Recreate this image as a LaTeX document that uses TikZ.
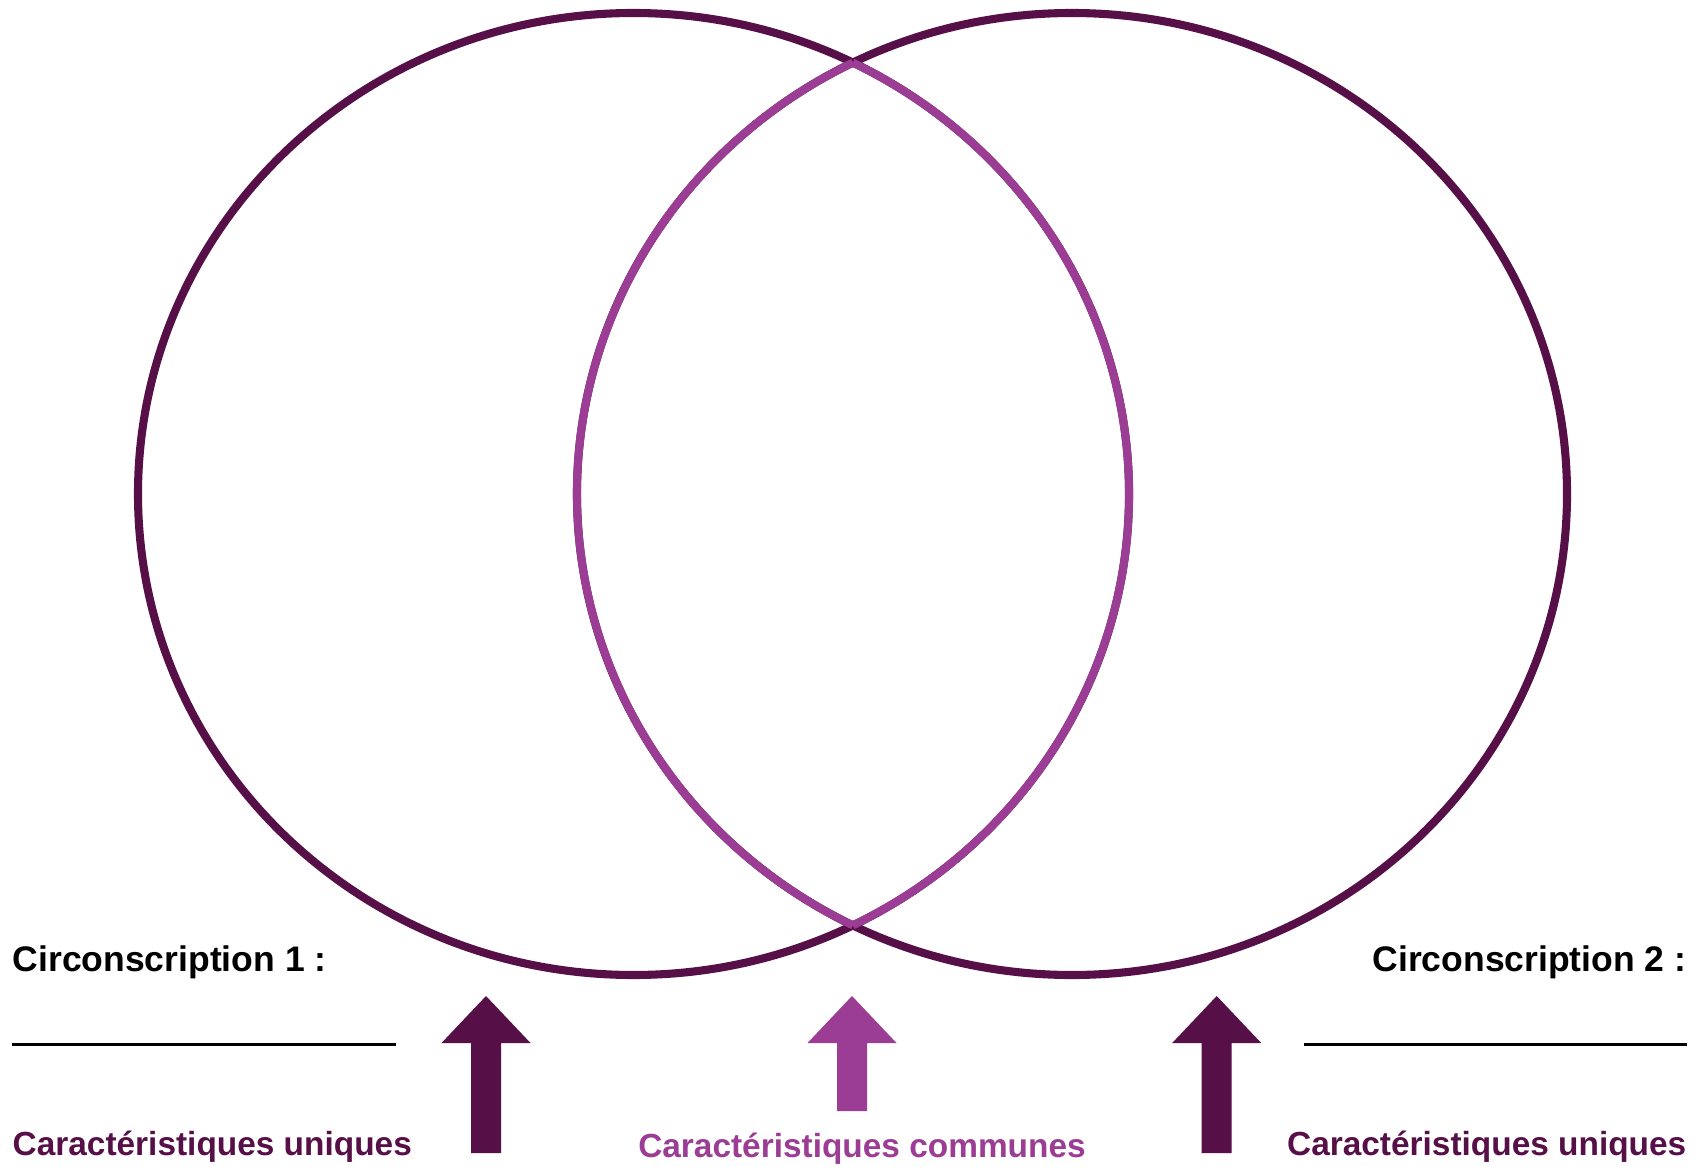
\documentclass[tikz,border=0pt]{standalone}
\usepackage{fontspec}
\setmainfont{Liberation Sans}
\definecolor{plumdark}{RGB}{87,15,72}
\definecolor{plumlight}{RGB}{155,61,148}
\tikzset{
  ring/.style={draw=plumdark, line width=2.3pt},
  lens/.style={draw=plumlight, line width=2.3pt},
  title/.style={inner sep=0pt, font=\fontsize{10.1pt}{12pt}\selectfont\bfseries},
  caption/.style={inner sep=0pt, font=\fontsize{9.5pt}{12pt}\selectfont\bfseries},
}
\begin{document}
\begin{tikzpicture}[x=0.01cm,y=-0.01cm]
            \useasboundingbox (0,0) rectangle (1703,1167);
            % the two districts
            \draw[ring] (633.5,494) ellipse [x radius=495.5, y radius=481];
            \draw[ring] (1072,494) ellipse [x radius=495, y radius=481];
            % shared part
            \draw[lens] (633.5,494) ++(-63.74:495.5 and 481)
              arc [start angle=-63.74, end angle=63.74, x radius=495.5, y radius=481];
            \draw[lens] (1072,494) ++(116.26:495 and 481)
              arc [start angle=116.26, end angle=243.74, x radius=495, y radius=481];

            % pointers
            \foreach \ax/\bot/\col in {486/1153/plumdark, 852/1111/plumlight, 1216.7/1153/plumdark}
            \fill[\col] (\ax,996) -- ({\ax+44.5},1043) -- ({\ax+15},1043) -- ({\ax+15},\bot)
              -- ({\ax-15},\bot) -- ({\ax-15},1043) -- ({\ax-44.5},1043) -- cycle;

            % labels
            \node[title, anchor=base west] (district1) at (12,971) {Circonscription 1 :};
            \node[title, anchor=base east] (district2) at (1687,971) {Circonscription 2 :};
            \draw[line width=0.85pt] (12,1044) -- (396,1044);
            \draw[line width=0.85pt] (1304,1044) -- (1687,1044);
            \node[caption, text=plumdark, anchor=base west] (unique1) at (12,1155) {Caractéristiques uniques};
            \node[caption, text=plumdark, anchor=base east] (unique2) at (1687,1155) {Caractéristiques uniques};
            \node[caption, text=plumlight, anchor=base] (common) at (862,1157) {Caractéristiques communes};
        \end{tikzpicture}
\end{document}
